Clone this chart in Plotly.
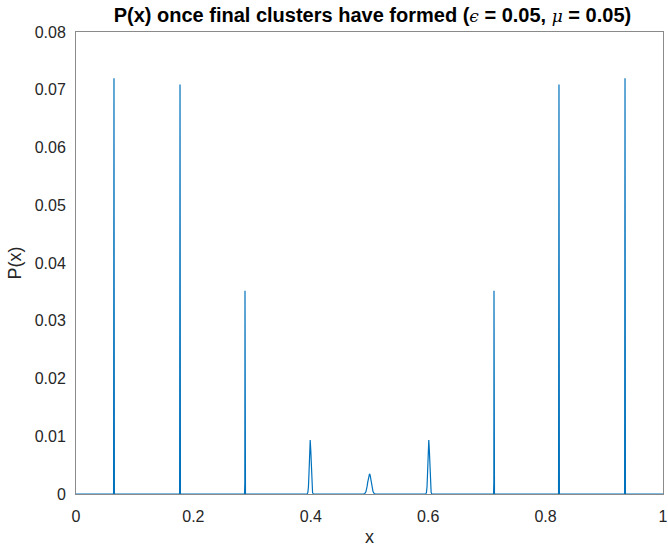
import plotly.graph_objects as go

# Stationary density P(x) on [0, 1] after the clusters have settled.
# Sampled points of the curve: flat at zero except at the cluster peaks.
x_vals = [
    0.0,
    0.0640, 0.0647, 0.0654,
    0.1765, 0.1772, 0.1779,
    0.2871, 0.2876, 0.2879, 0.2882, 0.2887,
    0.393, 0.394, 0.395, 0.396, 0.397, 0.398, 0.399, 0.400, 0.401, 0.402, 0.403, 0.404, 0.405,
    0.490, 0.492, 0.494, 0.495, 0.496, 0.497, 0.498, 0.499, 0.500,
    0.501, 0.502, 0.503, 0.504, 0.505, 0.506, 0.508, 0.510,
    0.595, 0.596, 0.597, 0.598, 0.599, 0.600, 0.601, 0.602, 0.603, 0.604, 0.605, 0.606, 0.607,
    0.7113, 0.7118, 0.7121, 0.7124, 0.7129,
    0.8221, 0.8228, 0.8235,
    0.9346, 0.9353, 0.9360,
    1.0,
]
p_vals = [
    0.0,
    0.0, 0.0720, 0.0,
    0.0, 0.0709, 0.0,
    0.0, 0.0020, 0.0352, 0.0020, 0.0,
    0.0, 0.00004, 0.00027, 0.00126, 0.00385, 0.00748, 0.00935, 0.00748, 0.00385, 0.00126, 0.00027, 0.00004, 0.0,
    0.0, 0.00008, 0.00041, 0.00079, 0.00135, 0.00205, 0.00276, 0.00330, 0.00350,
    0.00330, 0.00276, 0.00205, 0.00135, 0.00079, 0.00041, 0.00008, 0.0,
    0.0, 0.00004, 0.00027, 0.00126, 0.00385, 0.00748, 0.00935, 0.00748, 0.00385, 0.00126, 0.00027, 0.00004, 0.0,
    0.0, 0.0020, 0.0352, 0.0020, 0.0,
    0.0, 0.0709, 0.0,
    0.0, 0.0720, 0.0,
    0.0,
]

x_ticks = [0, 0.2, 0.4, 0.6, 0.8, 1]
x_tick_text = ["0", "0.2", "0.4", "0.6", "0.8", "1"]
y_ticks = [0, 0.01, 0.02, 0.03, 0.04, 0.05, 0.06, 0.07, 0.08]
y_tick_text = ["0", "0.01", "0.02", "0.03", "0.04", "0.05", "0.06", "0.07", "0.08"]

greek = "font-family:'DejaVu Serif';font-weight:normal;font-style:italic;font-size:17px"
title_text = (
    "<b>P(x) once final clusters have formed (</b>"
    f"<span style=\"{greek}\">ϵ</span><b> = 0.05, </b>"
    f"<span style=\"{greek}\">μ</span><b> = 0.05)</b>"
)

fig = go.Figure()
fig.add_trace(go.Scatter(
    x=x_vals, y=p_vals, mode="lines",
    line=dict(color="#0072BD", width=1.2),
    showlegend=False,
))

axis_common = dict(
    showline=True, linecolor="#8a8a8a", linewidth=1, mirror=True,
    showgrid=False, zeroline=False, ticks="", layer="below traces",
    automargin=False,
    tickfont=dict(family="Liberation Sans, Arial", size=16, color="#262626"),
)

fig.update_layout(
    width=668, height=550,
    margin=dict(l=76, r=5, t=32, b=56),
    paper_bgcolor="white", plot_bgcolor="white",
    title=dict(
        text=title_text, x=0.505, xanchor="center", y=1 - 15 / 550, yanchor="middle",
        yref="container", xref="paper",
        font=dict(family="Liberation Sans, Arial", size=20, color="#000000"),
    ),
    xaxis=dict(
        range=[0, 1], tickvals=x_ticks, ticktext=x_tick_text,
        ticklabelstandoff=8,
        title=dict(text="x", standoff=6,
                   font=dict(family="Liberation Sans, Arial", size=18, color="#262626")),
        **axis_common,
    ),
    yaxis=dict(
        range=[0, 0.08], tickvals=y_ticks, ticktext=y_tick_text,
        ticklabelstandoff=6,
        title=dict(text="P(x)", standoff=8,
                   font=dict(family="Liberation Sans, Arial", size=18, color="#262626")),
        **axis_common,
    ),
)

fig.write_html("out.html")
